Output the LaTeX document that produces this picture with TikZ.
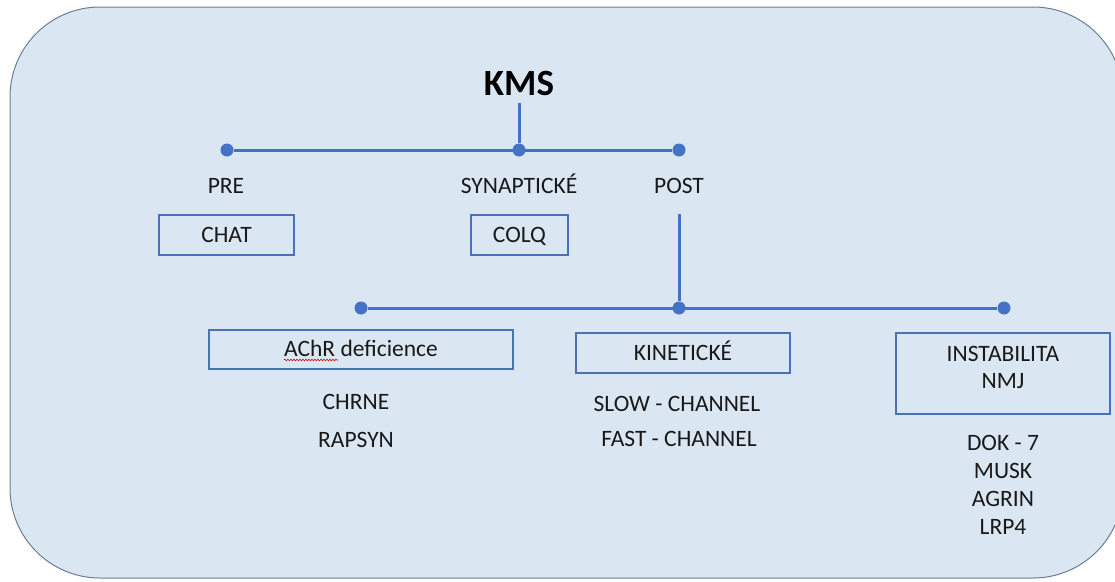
\documentclass[tikz,border=0pt]{standalone}
\usepackage{fontspec}
\setmainfont{Carlito}
\usetikzlibrary{decorations.pathmorphing}
\definecolor{bgfill}{HTML}{DAE7F3}
\definecolor{bgdraw}{HTML}{6A7D96}
\definecolor{lineblue}{HTML}{4472C4}
\definecolor{boxblue}{HTML}{4A72B6}
\tikzset{
  bg/.style={fill=bgfill, draw=bgdraw, line width=1pt, rounded corners=90pt},
  conn/.style={draw=lineblue, line width=3pt},
  dotnode/.style={circle, fill=lineblue, inner sep=0pt, minimum size=13pt},
  lbl/.style={font=\fontsize{23.5}{28}\selectfont, anchor=base, inner sep=0pt, text=black!90},
  gbox/.style={draw=boxblue, line width=2.5pt, inner sep=0pt, text height=14.5pt, text depth=0pt,
    font=\fontsize{23.5}{28}\selectfont, text=black!90},
  squig/.style={draw=red!80!black, line width=0.6pt, decorate, decoration={snake, amplitude=0.8pt, segment length=3pt}}
}
\begin{document}
\begin{tikzpicture}[x=1pt,y=-1pt]
\useasboundingbox (0,0) rectangle (1115,581);
\begin{scope}
\clip (0,0) rectangle (1115,581);
\path[bg] (10,7) rectangle (1123,578);
\end{scope}

% title
\node[anchor=base, inner sep=8pt, outer sep=0pt, font=\fontsize{37}{44}\selectfont\bfseries] (kms) at (519,95) {KMS};

% top level dots
\node[dotnode] (d1) at (227,150) {};
\node[dotnode] (d2) at (519,150) {};
\node[dotnode] (d3) at (679,150) {};
\draw[conn] (d1) -- (d3);
\draw[conn] (kms.south) -- (d2);

% top labels
\node[lbl] (pre) at (226,193) {PRE};
\node[lbl] (syn) at (519,193) {SYNAPTICKÉ};
\node[lbl] (post) at (679,193) {POST};

% top boxes
\node[gbox, minimum width=135pt, minimum height=40pt] (chat) at (226.5,235) {CHAT};
\node[gbox, minimum width=97pt, minimum height=40pt] (colq) at (519.5,235) {COLQ};

% post drop
\coordinate (postdrop) at (679,214);
\node[dotnode] (e1) at (361,308) {};
\node[dotnode] (e2) at (679,308) {};
\node[dotnode] (e3) at (1004,308) {};
\draw[conn] (postdrop) -- (e2);
\draw[conn] (e1) -- (e3);

% second level boxes
\node[gbox, minimum width=304pt, minimum height=39pt] (achr) at (361,349.5) {AChR deficience};
\draw[squig] (284,360) -- (338,360);
\node[gbox, minimum width=214pt, minimum height=40pt] (kin) at (683,353) {KINETICKÉ};
\node[draw=boxblue, line width=2.5pt, inner sep=0pt, minimum width=214pt, minimum height=81pt] (inst) at (1003,373.5) {};
\node[lbl] (inst1) at (1003,361) {INSTABILITA};
\node[lbl] (inst2) at (1003,388) {NMJ};

% lists
\node[lbl] (chrne) at (356,409) {CHRNE};
\node[lbl] (rapsyn) at (356,447) {RAPSYN};
\node[lbl] (slow) at (677,411) {SLOW - CHANNEL};
\node[lbl] (fast) at (679,446) {FAST - CHANNEL};
\node[lbl] (dok) at (1003,450) {DOK - 7};
\node[lbl] (musk) at (1003,478) {MUSK};
\node[lbl] (agrin) at (1003,506) {AGRIN};
\node[lbl] (lrp) at (1003,534) {LRP4};
\end{tikzpicture}
\end{document}
